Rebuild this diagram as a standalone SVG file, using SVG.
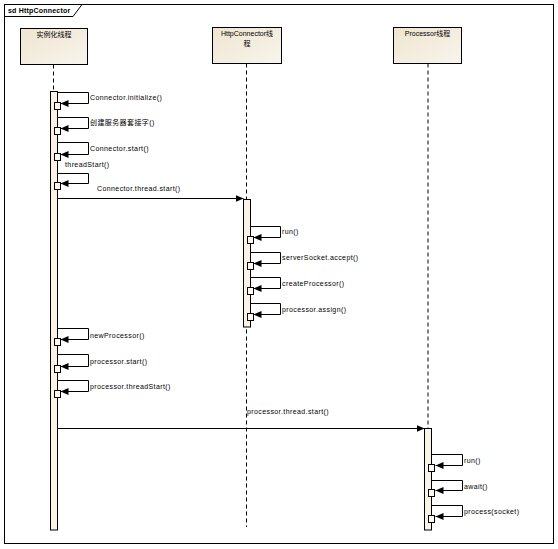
<svg xmlns="http://www.w3.org/2000/svg" width="558" height="549" viewBox="0 0 558 549">
<defs>
<linearGradient id="hg" x1="0" y1="0" x2="1" y2="1">
<stop offset="0" stop-color="#efe5cf"/>
<stop offset="1" stop-color="#f8f5ee"/>
</linearGradient>
<marker id="ah" markerUnits="userSpaceOnUse" markerWidth="9" markerHeight="8" refX="8" refY="3.5" orient="auto">
<path d="M0,0 L8,3.5 L0,7 z" fill="#000"/>
</marker>
</defs>
<style>
text{font-family:"Liberation Sans","Noto Sans CJK SC",sans-serif;font-size:7px;fill:#000}
#labels text{letter-spacing:0.4px}
.hdr{fill:url(#hg);stroke:#000;stroke-width:1}
.life{stroke:#000;stroke-width:1;stroke-dasharray:4,3;fill:none}
.bar{fill:#fbf3e6;stroke:#000;stroke-width:1}
.sq{fill:#fffaf2;stroke:#000;stroke-width:1}
.msg{fill:none;stroke:#000;stroke-width:1;marker-end:url(#ah)}
.c{text-anchor:middle}
</style>
<rect width="558" height="549" fill="#fff"/>
<g id="frame">
<rect x="4.5" y="4.5" width="549" height="539" fill="none" stroke="#000"/>
<path d="M4.5,16.5 H73 L82,4.5" fill="none" stroke="#000"/>
<text x="8" y="13" font-weight="bold" letter-spacing="0.2">sd HttpConnector</text>
</g>
<g id="lifeline1">
<rect class="hdr" x="20.5" y="28.5" width="67" height="36"/>
<text class="c" x="54" y="37">实例化线程</text>
<line class="life" x1="53.5" y1="64.5" x2="53.5" y2="91"/>
<rect class="bar" x="50.5" y="91.5" width="7" height="438.5"/>
</g>
<g id="lifeline2">
<rect class="hdr" x="212.5" y="27.5" width="69" height="36"/>
<text class="c" x="247" y="36">HttpConnector线</text>
<text class="c" x="247" y="46">程</text>
<line class="life" x1="246.5" y1="63.5" x2="246.5" y2="527"/>
<rect class="bar" x="243.5" y="199.5" width="7" height="127.5"/>
</g>
<g id="lifeline3">
<rect class="hdr" x="393.5" y="27.5" width="68" height="36"/>
<text class="c" x="427.5" y="36">Processor线程</text>
<line class="life" x1="428" y1="63.5" x2="428" y2="428"/>
<rect class="bar" x="424.5" y="428.5" width="7" height="101.5"/>
</g>
<g id="connectors">
<path class="msg" d="M57.5,92.5 H88.5 V103.5 H60.5"/>
<path class="msg" d="M57.5,117.5 H88.5 V128.5 H60.5"/>
<path class="msg" d="M57.5,142.5 H88.5 V154.5 H60.5"/>
<path class="msg" d="M57.5,173.5 H88.5 V183.5 H60.5"/>
<path class="msg" d="M57.5,198.5 H243.5"/>
<path class="msg" d="M250.5,226.5 H280.5 V237.5 H253.5"/>
<path class="msg" d="M250.5,252.5 H280.5 V263.5 H253.5"/>
<path class="msg" d="M250.5,277.5 H280.5 V288.5 H253.5"/>
<path class="msg" d="M250.5,303.5 H280.5 V314.5 H253.5"/>
<path class="msg" d="M57.5,328.5 H88.5 V339.5 H60.5"/>
<path class="msg" d="M57.5,354.5 H88.5 V366.5 H60.5"/>
<path class="msg" d="M57.5,380.5 H88.5 V391.5 H60.5"/>
<path class="msg" d="M57.5,428.5 H424.5"/>
<path class="msg" d="M431.5,454.5 H462.5 V465.5 H435.5"/>
<path class="msg" d="M431.5,480.5 H462.5 V490.5 H435.5"/>
<path class="msg" d="M431.5,505.5 H462.5 V516.5 H435.5"/>
</g>
<g id="activations">
<rect class="sq" x="54.5" y="102.5" width="6" height="7"/>
<rect class="sq" x="54.5" y="127.5" width="6" height="7"/>
<rect class="sq" x="54.5" y="153.5" width="6" height="7"/>
<rect class="sq" x="54.5" y="182.5" width="6" height="7"/>
<rect class="sq" x="247.5" y="236.5" width="6" height="7"/>
<rect class="sq" x="247.5" y="262.5" width="6" height="7"/>
<rect class="sq" x="247.5" y="287.5" width="6" height="7"/>
<rect class="sq" x="247.5" y="313.5" width="6" height="7"/>
<rect class="sq" x="54.5" y="338.5" width="6" height="7"/>
<rect class="sq" x="54.5" y="365.5" width="6" height="7"/>
<rect class="sq" x="54.5" y="390.5" width="6" height="7"/>
<rect class="sq" x="428.5" y="464.5" width="6" height="7"/>
<rect class="sq" x="428.5" y="489.5" width="6" height="7"/>
<rect class="sq" x="428.5" y="515.5" width="6" height="7"/>
</g>
<g id="labels">
<text x="90" y="99.5">Connector.initialize()</text>
<text x="90" y="124.5">创建服务器套接字()</text>
<text x="90" y="150.5">Connector.start()</text>
<text x="65" y="166.5">threadStart()</text>
<text x="97" y="190.5">Connector.thread.start()</text>
<text x="282" y="233.5">run()</text>
<text x="282" y="259.5">serverSocket.accept()</text>
<text x="282" y="285.5">createProcessor()</text>
<text x="282" y="311.5">processor.assign()</text>
<text x="90" y="337.5">newProcessor()</text>
<text x="90" y="363.5">processor.start()</text>
<text x="90" y="388.5">processor.threadStart()</text>
<text x="247" y="413.5">processor.thread.start()</text>
<text x="464" y="462.5">run()</text>
<text x="464" y="488.5">await()</text>
<text x="464" y="513.5">process(socket)</text>
</g>
</svg>
